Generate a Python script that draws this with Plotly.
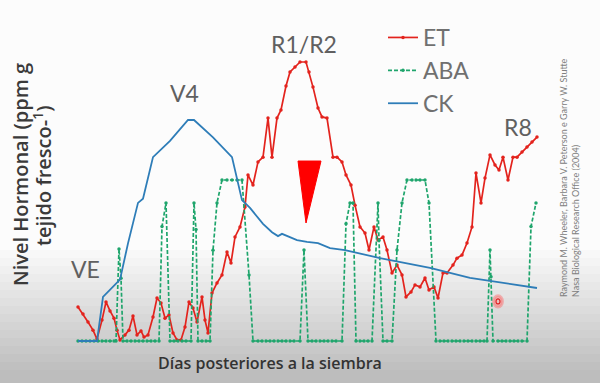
import plotly.graph_objects as go

# ---------------- data (x = días posteriores a la siembra, y = nivel relativo) ----------------
et_days = [0, 1.25, 2.5, 3.75, 4.75, 6, 7, 8, 9, 9.75,
           10.5, 11.75, 12.75, 13.75, 14.75, 15.75, 16.5, 17.5, 18.75, 19.75,
           20.75, 21.75, 22.75, 23.75, 24.75, 25.75, 26.75, 27.75, 28.75, 29.75,
           31, 31.75, 32.5, 33.5, 34.75, 36, 37.25, 38.25, 39.25, 40.5,
           41.75, 42.5, 43.75, 45, 46.25, 47.5, 48.5, 49.75, 50.75, 52,
           53, 54.25, 55.5, 57, 57.75, 58.75, 60, 61, 62.25, 63.75,
           64.75, 66, 67, 68.25, 69.25, 70.5, 71.75, 72.75, 74, 75,
           76.25, 77.25, 78.5, 79.75, 81, 82, 83.25, 84.25, 85.5, 86.75,
           87.75, 89, 90, 91.25, 92.25, 93.75, 94.75, 96, 97.25, 98.5,
           99.5, 100.75, 101.75, 103, 104.25, 105.25, 106.25, 107.5, 108.75, 109.75,
           111, 112.25, 113.5, 114.75]
et_level = [12.2, 9.7, 6.8, 3.9, 0.7, 7.5, 14.0, 10.8, 8.2, 3.9,
            0.4, 2.2, 3.9, 9.0, 2.2, 3.6, 1.4, 2.2, 8.6, 15.4,
            13.6, 8.2, 9.3, 2.9, 0.4, 0.4, 5.0, 14.0, 11.8, 6.8,
            15.8, 7.5, 2.9, 17.2, 20.8, 23.7, 31.9, 28.0, 37.3, 40.9,
            48.0, 59.5, 55.9, 64.2, 65.9, 79.9, 65.9, 79.9, 82.8, 91.4,
            96.4, 98.2, 100, 100, 96.4, 91.0, 83.5, 80.3, 79.9, 65.9,
            65.9, 64.2, 59.5, 55.9, 48.7, 40.9, 38.7, 32.6, 40.9, 36.2,
            37.3, 32.6, 24.4, 27.2, 23.7, 15.8, 17.6, 20.1, 19.4, 22.6,
            18.3, 19.4, 15.4, 24.4, 24.4, 27.2, 29.7, 30.8, 35.1, 40.9,
            60.2, 49.5, 58.4, 66.7, 63.1, 61.3, 65.9, 57.7, 65.9, 65.9,
            67.7, 69.5, 71.3, 73.1]

aba_days = [0, 1, 2, 3, 4, 5, 6, 7, 8, 9,
            9.5, 10.25, 10.75, 11.25, 12.25, 13.25, 14.25, 15.25, 16.25, 17.25,
            18.25, 19.25, 20.25, 21, 22, 23, 24, 25, 26, 27,
            28.25, 29, 29.5, 30, 31, 32, 33, 33.75, 34.75, 36,
            37.25, 38.5, 39.75, 41, 42.75, 43.75, 45, 46, 47, 48,
            49, 50, 51, 52, 53, 54, 55.5, 56.5, 57.5, 58.5,
            59.5, 60.5, 61.5, 62.5, 63.5, 64.5, 66, 67, 68, 68.75,
            69.5, 70.5, 71.5, 72.5, 73.5, 75, 75.25, 76.25, 77.25, 78.5,
            79.75, 81, 82.25, 83.5, 84.5, 85.5, 86.75, 87.75, 89.5, 90.5,
            91.5, 92.5, 93.5, 94.5, 95.5, 96.5, 97.5, 98.5, 99.5, 100.5,
            101.5, 102.25, 103, 103.25, 103.75, 105, 106, 107, 108, 109,
            110, 111, 112.25, 113.25, 114.5]
aba_level = [0, 0, 0, 0, 0, 0, 0, 0, 0, 0,
             0, 33, 22.5, 0, 0, 0, 0, 0, 0, 0,
             0, 0, 0, 41, 49.5, 0, 0, 0, 0, 0,
             0, 49.5, 40, 0, 0, 0, 0, 32.5, 49.5, 57.7,
             57.7, 57.7, 57.7, 57.7, 23.7, 0, 0, 0, 0, 0,
             0, 0, 0, 0, 0, 0, 0, 32.6, 0, 0,
             0, 0, 0, 0, 0, 0, 0, 42, 49.5, 49.5,
             0, 0, 0, 0, 0, 49.5, 36, 0, 0, 0,
             32.6, 49.5, 57.7, 57.7, 57.7, 57.7, 57.7, 49.5, 0, 0,
             0, 0, 0, 0, 0, 0, 0, 0, 0, 0,
             0, 0, 32.6, 23, 0, 0, 0, 0, 0, 0,
             0, 0, 0, 41, 49.5]

ck_days = [0, 4.75, 6.25, 10.5, 12.5, 15, 16.25, 18.75, 23, 27.5,
           29, 33.75, 38.5, 41, 43, 46.25, 48.5, 50, 51, 54.75,
           57.25, 60, 63, 66.75, 75.5, 88, 98, 114.75]
ck_level = [0, 0, 15.8, 22, 35, 49.5, 51, 65.9, 71.7, 79.2,
            79.2, 73, 65.9, 50.5, 47.7, 42, 39, 37.6, 38.4, 36.2,
            35.5, 35.1, 33.3, 32.6, 29.7, 26.2, 22.6, 19]

stage_labels = ["VE", "V4", "R1/R2", "R8"]

# ---------------- figure ----------------
W, H = 600, 383
def px(x):
    return x / W
def py(y):
    return 1 - y / H

RED = "#e3231d"
GREEN = "#1fa56c"
BLUE = "#2e7db8"
FONT = "Lato"
TFONT = "Open Sans"

fig = go.Figure()
fig.add_trace(go.Scatter(x=et_days, y=et_level, name="ET", mode="lines+markers",
                         line=dict(color=RED, width=1.7),
                         marker=dict(color=RED, size=3.5)))
fig.add_trace(go.Scatter(x=aba_days, y=aba_level, name="ABA", mode="lines+markers",
                         line=dict(color=GREEN, width=1.7, dash="4px,2px"),
                         marker=dict(color=GREEN, size=3.5)))
fig.add_trace(go.Scatter(x=ck_days, y=ck_level, name="CK", mode="lines",
                         line=dict(color=BLUE, width=1.8)))

shapes = []
# soft grey vignette at the bottom (photographed slide)
n = 16
for i in range(n):
    y0 = 250 + i * 8
    shapes.append(dict(type="rect", xref="paper", yref="paper", x0=0, x1=1,
                       y0=0, y1=py(y0), fillcolor="rgba(0,0,0,0.017)",
                       line=dict(width=0), layer="below"))
# red arrow-head marker under the ET peak
shapes.append(dict(type="path", xref="x", yref="y",
                   path="M 55,64.5 L 60.75,64.5 L 57,42.3 Z",
                   fillcolor="#ff0000", line=dict(color="#ff0000", width=1)))
# small pointer circle
shapes.append(dict(type="circle", xref="x", yref="y", x0=103.9, x1=106.1, y0=12.2, y1=16.2,
                   fillcolor="rgba(255,120,120,0.35)", line=dict(color="rgba(255,90,90,0.4)", width=3)))
shapes.append(dict(type="circle", xref="x", yref="y", x0=104.5, x1=105.5, y0=13.3, y1=15.1,
                   fillcolor="rgba(0,0,0,0)", line=dict(color="#e02020", width=1.2)))

annotations = []
stage_pos = [(85, 269), (184, 93), (304, 44), (518, 127)]
for lab, (xx, yy) in zip(stage_labels, stage_pos):
    annotations.append(dict(text=lab, xref="paper", yref="paper", x=px(xx), y=py(yy),
                            xanchor="center", yanchor="middle", showarrow=False,
                            font=dict(family=FONT, size=23, color="#606060")))
# axis titles
annotations.append(dict(text="Nivel Hormonal (ppm g", xref="paper", yref="paper",
                        x=px(21), y=py(175), textangle=-90, showarrow=False,
                        xanchor="center", yanchor="middle",
                        font=dict(family=TFONT, size=20, color="#3a3a3a", weight=600)))
annotations.append(dict(text="tejido fresco-<sup>1</sup>)", xref="paper", yref="paper",
                        x=px(42), y=py(176), textangle=-90, showarrow=False,
                        xanchor="center", yanchor="middle",
                        font=dict(family=TFONT, size=20, color="#3a3a3a", weight=600)))
annotations.append(dict(text="Días posteriores a la siembra", xref="paper", yref="paper",
                        x=px(270), y=py(363), showarrow=False,
                        xanchor="center", yanchor="middle",
                        font=dict(family=TFONT, size=16, color="#333333", weight=600)))
# citation
annotations.append(dict(text="Raymond M. Wheeler, Barbara V. Peterson e Garry W. Stutte<br>Nasa Biological Research Office (2004)",
                        xref="paper", yref="paper", x=px(569), y=py(178), textangle=-90,
                        align="left", showarrow=False, xanchor="center", yanchor="middle",
                        font=dict(family=FONT, size=9, color="#808080")))

fig.update_layout(
    width=W, height=H,
    margin=dict(l=0, r=0, t=0, b=0),
    paper_bgcolor="#fcfcfc", plot_bgcolor="rgba(0,0,0,0)",
    xaxis=dict(domain=[px(70), px(550)], range=[-2, 118], visible=False),
    yaxis=dict(domain=[py(348), py(55)], range=[-2.5, 102.5], visible=False),
    showlegend=True,
    legend=dict(x=px(383), y=py(16), xanchor="left", yanchor="top",
                bgcolor="rgba(0,0,0,0)", itemwidth=30, tracegroupgap=0,
                font=dict(family=FONT, size=23, color="#707070")),
    shapes=shapes, annotations=annotations,
    font=dict(family=FONT),
)
fig.write_html("out.html")
